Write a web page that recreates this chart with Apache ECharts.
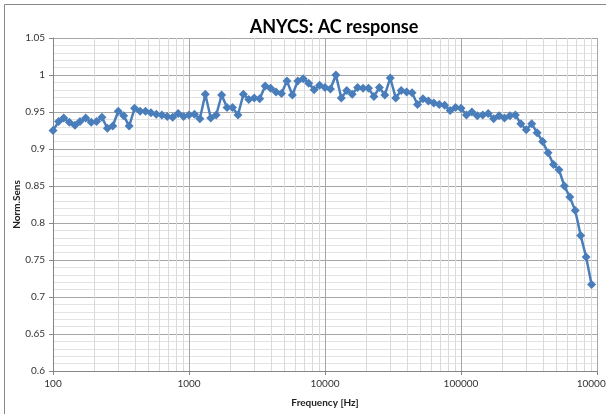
<!DOCTYPE html>
<html><head><meta charset="utf-8">
<script src="https://cdn.jsdelivr.net/npm/echarts@6/dist/echarts.min.js"></script>
<style>html,body{margin:0;padding:0;background:#fff}#c{width:606px;height:414px}</style>
</head><body><div id="c"></div>
<script>
const titleText = 'ANYCS: AC response';
const xName = 'Frequency [Hz]';
const yName = 'Norm.Sens';
const freqs = [
 100,110,120,132,145,158,174,191,209,229,251,275,302,331,363,398,437,479,525,575,631,692,759,832,912,
 1000,1096,1202,1318,1445,1585,1738,1905,2089,2291,2512,2754,3020,3311,3631,3981,4365,4786,5248,5754,6310,6918,7586,8318,9120,
 10000,10965,12023,13183,14454,15849,17378,19055,20893,22909,25119,27542,30200,33113,36308,39811,43652,47863,52481,57544,63096,69183,75858,83176,91201,
 100000,109648,120226,131826,144544,158489,173780,190546,208930,229087,251189,275423,301995,331131,363078,398107,436516,478630,524807,575440,630957,691831,758578,831764,912011
];
const sens = [
 0.925,0.937,0.942,0.936,0.932,0.937,0.942,0.936,0.937,0.943,0.928,0.931,0.951,0.945,0.931,0.955,0.951,0.951,0.949,0.947,0.946,0.944,0.943,0.948,0.944,
 0.946,0.947,0.941,0.974,0.942,0.946,0.973,0.956,0.956,0.946,0.974,0.967,0.969,0.968,0.985,0.982,0.977,0.975,0.992,0.973,0.992,0.995,0.989,0.980,0.986,
 0.983,0.981,1.000,0.969,0.979,0.974,0.983,0.982,0.982,0.971,0.983,0.973,0.996,0.969,0.979,0.977,0.976,0.960,0.968,0.965,0.962,0.960,0.959,0.952,0.956,
 0.955,0.946,0.950,0.945,0.946,0.948,0.941,0.945,0.942,0.945,0.946,0.934,0.926,0.934,0.922,0.910,0.895,0.879,0.872,0.850,0.835,0.817,0.783,0.754,0.717
];
const xTicks = [100,1000,10000,100000,1000000];
const yMin = 0.6, yMax = 1.05, yStep = 0.05;

const minorX = [];
for (let d = 100; d < 1000000; d *= 10) for (let k = 2; k <= 9; k++) minorX.push({xAxis: d * k});

const font = 'Lato, "Liberation Sans", sans-serif';
const chart = echarts.init(document.getElementById('c'), null, {renderer: 'canvas'});
chart.setOption({
  animation: false,
  backgroundColor: '#fff',
  title: {text: titleText, left: 329, top: 13, textAlign: 'center',
    textStyle: {fontFamily: font, fontWeight: 'bold', fontSize: 18, color: '#000'}},
  graphic: [{type: 'polyline', shape: {points: [[4.5, 414], [4.5, 4.5], [606, 4.5]]},
    style: {stroke: '#888', lineWidth: 1, fill: null}, silent: true}],
  grid: {left: 53, right: 9, top: 38, bottom: 43, outerBoundsMode: 'none', containLabel: false},
  xAxis: {type: 'log', logBase: 10, min: xTicks[0], max: xTicks[xTicks.length - 1],
    name: xName, nameLocation: 'middle', nameGap: 27, nameMoveOverlap: false,
    nameTextStyle: {fontFamily: font, fontWeight: 'bold', fontSize: 10, color: '#222'},
    axisLine: {show: true, lineStyle: {color: '#868686'}},
    axisTick: {show: true, length: 4, lineStyle: {color: '#868686'}},
    axisLabel: {fontFamily: font, fontSize: 10, color: '#333', margin: 8,
      formatter: v => String(Math.round(v))},
    splitLine: {show: true, lineStyle: {color: '#a6a6a6', width: 1}},
    minorTick: {show: false}, minorSplitLine: {show: false}},
  yAxis: {type: 'value', min: yMin, max: yMax, interval: yStep,
    name: yName, nameLocation: 'middle', nameGap: 31, nameRotate: 90, nameMoveOverlap: false,
    nameTextStyle: {fontFamily: font, fontWeight: 'bold', fontSize: 10, color: '#222'},
    axisLine: {show: true, lineStyle: {color: '#868686'}},
    axisTick: {show: true, length: 4, lineStyle: {color: '#868686'}},
    axisLabel: {fontFamily: font, fontSize: 10, color: '#333', margin: 8,
      formatter: v => String(+v.toFixed(2))},
    splitLine: {show: true, lineStyle: {color: '#a6a6a6', width: 1}},
    minorTick: {show: false, splitNumber: 5},
    minorSplitLine: {show: true, lineStyle: {color: '#e3e3e3', width: 1}}},
  series: [
    {type: 'line', data: [], silent: true,
      markLine: {silent: true, symbol: 'none', label: {show: false},
        lineStyle: {color: '#dadada', type: 'solid', width: 1}, data: minorX}},
    {type: 'line', name: yName, data: freqs.map((f, i) => [f, sens[i]]),
      symbol: 'diamond', symbolSize: 9, z: 5,
      lineStyle: {color: '#4a7ebb', width: 2.5},
      itemStyle: {color: '#4a7ebb'}}
  ]
});
</script></body></html>
